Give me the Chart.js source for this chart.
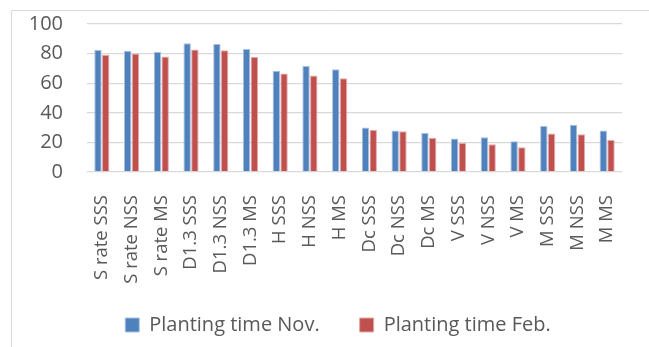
<!DOCTYPE html>
<html>
<head>
<meta charset="utf-8">
<script src="https://cdn.jsdelivr.net/npm/chart.js@4/dist/chart.umd.min.js"></script>
<style>
  html, body { margin: 0; padding: 0; background: #fff; overflow: hidden; }
  #wrap { position: relative; width: 649px; height: 347px; }
</style>
</head>
<body>
<div id="wrap"><canvas id="chart"></canvas></div>
<script>
const categories = [
  'S rate SSS', 'S rate NSS', 'S rate MS',
  'D1.3 SSS', 'D1.3 NSS', 'D1.3 MS',
  'H SSS', 'H NSS', 'H MS',
  'Dc SSS', 'Dc NSS', 'Dc MS',
  'V SSS', 'V NSS', 'V MS',
  'M SSS', 'M NSS', 'M MS'
];
const novValues = [82.4, 82, 81, 87, 86.5, 83.1, 68.4, 71.6, 69.4, 30, 28, 26.3, 22.6, 23.5, 20.7, 31, 31.9, 28];
const febValues = [79.3, 80, 78, 82.7, 82.2, 77.7, 66.5, 65.2, 63.3, 28.4, 27.6, 23.1, 19.6, 18.7, 16.7, 26, 25.5, 21.6];
const yTicks = [0, 20, 40, 60, 80, 100];

const textColor = '#595959';
const gridColor = '#d9d9d9';
const family = '"Open Sans", sans-serif';

// light frame around the chart (left and top edges)
const frame = {
  id: 'frame',
  beforeDraw(chart) {
    const {ctx, width, height} = chart;
    ctx.save();
    ctx.strokeStyle = gridColor;
    ctx.lineWidth = 1;
    ctx.beginPath();
    ctx.moveTo(11.5, height);
    ctx.lineTo(11.5, 10.5);
    ctx.lineTo(width, 10.5);
    ctx.stroke();
    ctx.restore();
  }
};

// keep the legend box short during layout, then place it under the middle of the frame
const legendNudge = {
  id: 'legendNudge',
  beforeLayout(chart) {
    const lg = chart.legend;
    if (lg && !lg._shortFit) {
      const fit = lg.fit;
      lg.fit = function () { fit.call(this); this.height = 50; };
      lg._shortFit = true;
    }
  },
  afterLayout(chart) {
    const lg = chart.legend;
    const dx = 338 - (lg.left + lg.right) / 2;
    lg.left += dx; lg.right += dx;
    lg.top = 275;
    lg.bottom = chart.height;
    lg.height = lg.bottom - lg.top;
  }
};

new Chart(document.getElementById('chart'), {
  type: 'bar',
  data: {
    labels: categories,
    datasets: [
      {
        label: 'Planting time Nov.',
        data: novValues,
        backgroundColor: '#4f81bd',
        borderColor: '#a7c0e0',
        borderWidth: 1
      },
      {
        label: 'Planting time Feb.',
        data: febValues,
        backgroundColor: '#c0504d',
        borderColor: '#e3a9a7',
        borderWidth: 1
      }
    ]
  },
  options: {
    responsive: true,
    maintainAspectRatio: false,
    animation: false,
    layout: {padding: {left: 12, right: 27, top: 0, bottom: 0}},
    datasets: {bar: {categoryPercentage: 0.52, barPercentage: 0.96}},
    scales: {
      x: {
        grid: {display: false},
        border: {display: false},
        ticks: {
          color: textColor,
          font: {family, size: 18.5},
          padding: 15,
          minRotation: 90,
          maxRotation: 90,
          autoSkip: false
        },
        afterFit: (scale) => { scale.height = 125; }
      },
      y: {
        min: 0,
        max: 100,
        afterBuildTicks: (scale) => { scale.ticks = yTicks.map(v => ({value: v})); },
        grid: {color: gridColor, lineWidth: 1.3, tickLength: 12, tickColor: 'rgba(0,0,0,0)'},
        border: {display: false},
        ticks: {color: textColor, font: {family, size: 20}, padding: 12, autoSkip: false},
        afterFit: (scale) => { scale.width = 75; }
      }
    },
    plugins: {
      legend: {
        position: 'bottom',
        labels: {
          color: textColor,
          font: {family, size: 20},
          boxWidth: 14,
          boxHeight: 14,
          padding: 40
        }
      },
      tooltip: {enabled: false}
    }
  },
  plugins: [frame, legendNudge]
});
</script>
</body>
</html>
